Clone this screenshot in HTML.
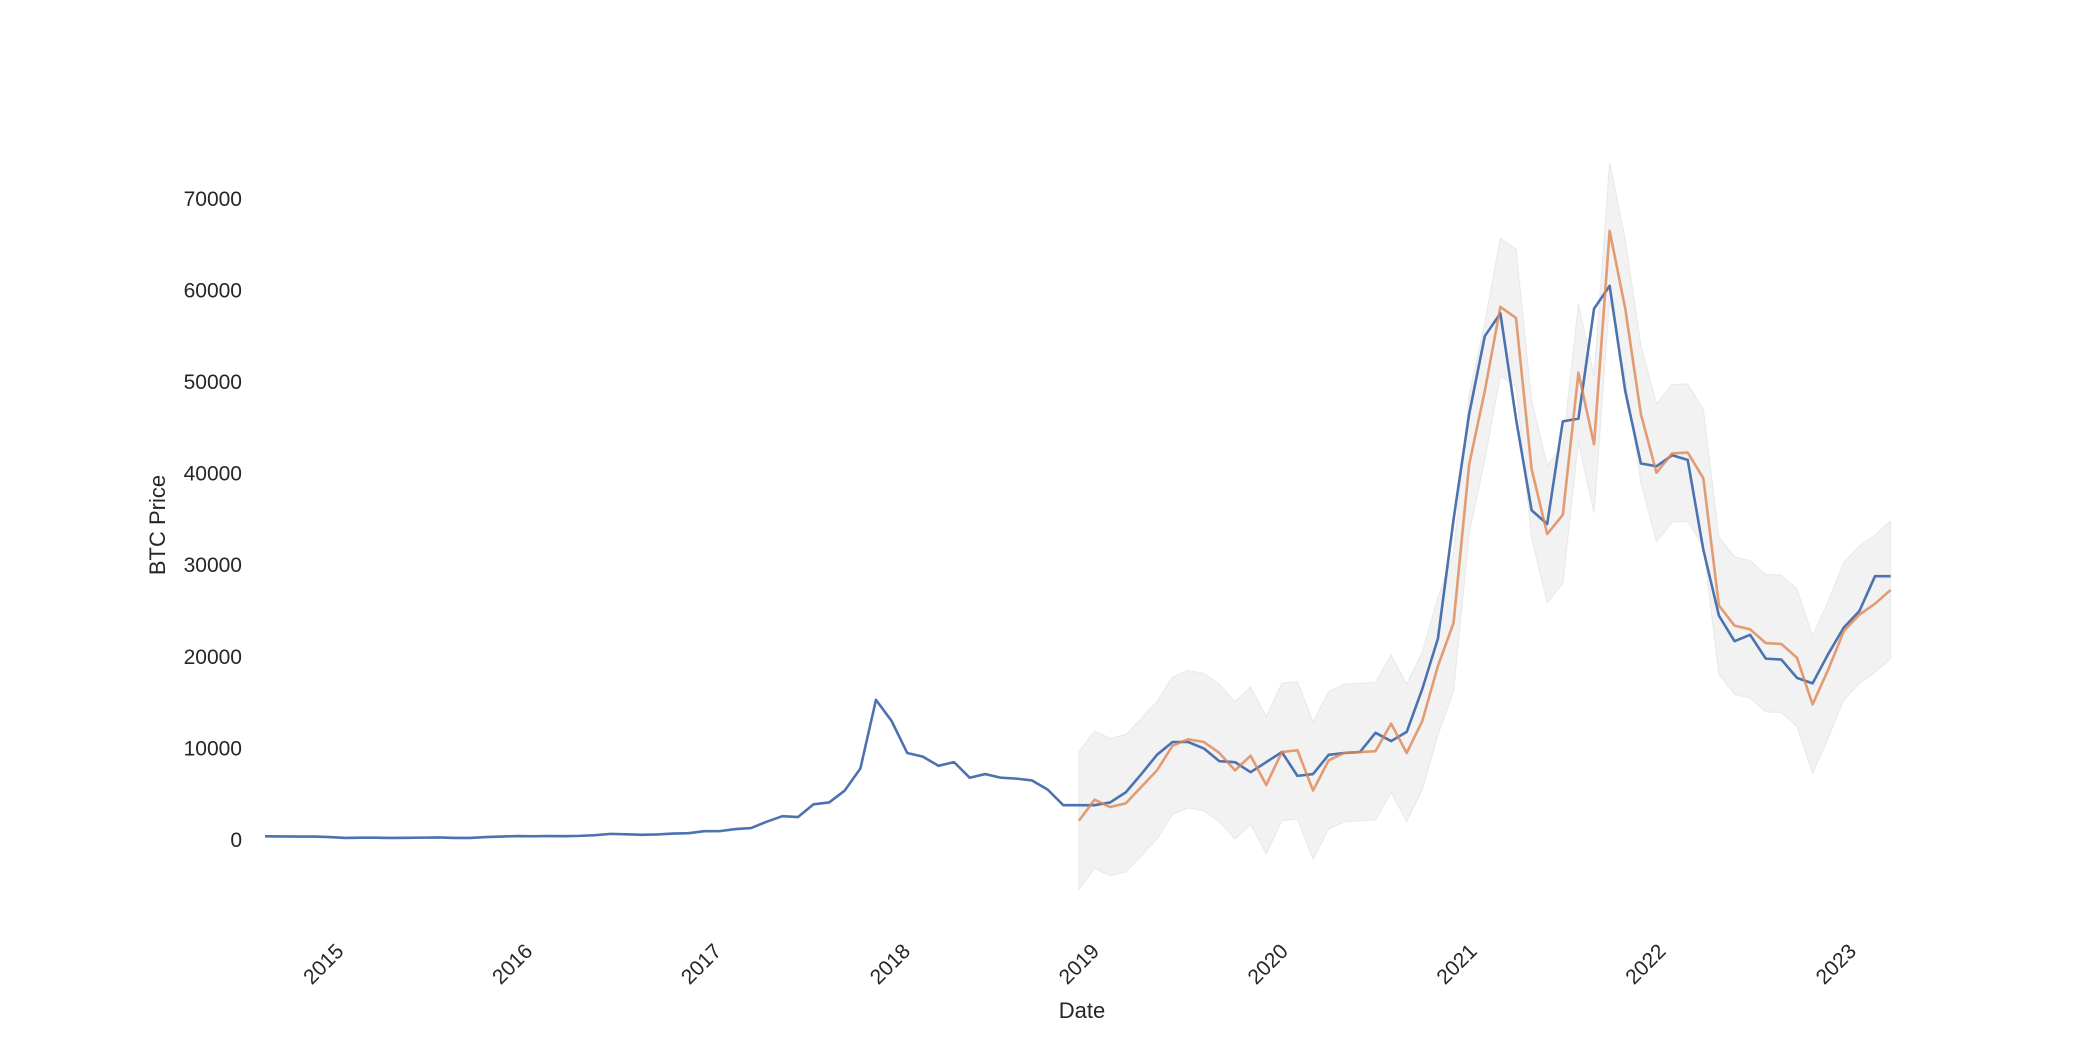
<!DOCTYPE html>
<html><head><meta charset="utf-8"><style>
html,body{margin:0;padding:0;background:#fff;}
svg{display:block;}
text{font-family:"Liberation Sans",Arial,sans-serif;fill:#262626;}
</style></head><body>
<svg id="chart" width="2100" height="1050" viewBox="0 0 2100 1050" xmlns="http://www.w3.org/2000/svg">
<g id="band"></g>
<g id="lines"></g>
<g id="yticks"></g>
<g id="xticks"></g>
<text x="1082" y="1018" font-size="22" text-anchor="middle">Date</text>
<text x="0" y="0" font-size="22" text-anchor="middle" transform="translate(165,525) rotate(-90)">BTC Price</text>
</svg>
<script>
const actual = [400,380,370,320,220,250,250,230,240,260,
280,230,230,320,370,430,410,430,420,450,
530,670,620,570,610,700,740,960,970,1190,
1300,2000,2600,2500,3900,4100,5400,7800,15300,13000,
9500,9100,8100,8500,6800,7200,6800,6700,6500,5500,
3800,3800,3800,4100,5200,7200,9300,10700,10700,10000,
8600,8500,7400,8500,9600,7000,7200,9300,9500,9600,
11700,10800,11800,16500,22000,35000,46500,55000,57500,46000,
36000,34500,45700,46000,58000,60500,49000,41100,40800,42000,
41500,31700,24500,21700,22400,19800,19700,17700,17100,20300,
23200,25000,28800,28800];
const startMonth = -1.14;
const predStart = 51;
const predicted = [2100,4400,3600,4000,5800,7600,10300,11000,10700,9500,
7600,9200,6000,9600,9800,5400,8700,9500,9600,9700,
12700,9500,13000,19000,23700,41000,49000,58200,57000,40500,
33400,35500,51000,43200,66500,58000,46500,40100,42200,42300,
39500,25600,23400,23000,21500,21400,19900,14800,18600,22800,
24600,25800,27300];
const ciLower = [-5400,-3100,-3900,-3500,-1700,100,2800,3500,3200,2000,
100,1700,-1500,2100,2300,-2100,1200,2000,2100,2200,
5200,2000,5500,11500,16200,33500,41500,50700,49500,33000,
25900,28000,43500,35700,59000,50500,39000,32600,34700,34800,
32000,18100,15900,15500,14000,13900,12400,7300,11100,15300,
17100,18300,19800];
const ciUpper = [9600,11900,11100,11500,13300,15100,17800,18500,18200,17000,
15100,16700,13500,17100,17300,12900,16200,17000,17100,17200,
20200,17000,20500,26500,31200,48500,56500,65700,64500,48000,
40900,43000,58500,50700,74000,65500,54000,47600,49700,49800,
47000,33100,30900,30500,29000,28900,27400,22300,26100,30300,
32100,33300,34800];
const yTicks = [0,10000,20000,30000,40000,50000,60000,70000];
const xTickLabels = ["2015","2016","2017","2018","2019","2020","2021","2022","2023"];
const xTickIdx = [2.6,14.7,26.8,38.9,51.0,63.1,75.2,87.3,99.5];

const NS="http://www.w3.org/2000/svg";
function xs(t){return 282.8+t*15.61;}
function tOf(i){return i===0?startMonth:i;}
function ys(v){return 840-v*0.00916;}
function mk(tag,attrs,parent){const e=document.createElementNS(NS,tag);for(const k in attrs)e.setAttribute(k,attrs[k]);parent.appendChild(e);return e;}

const band=document.getElementById('band');
let d="";
ciUpper.forEach((v,i)=>{d+=(i?"L":"M")+xs(predStart+i)+","+ys(v);});
for(let i=ciLower.length-1;i>=0;i--){d+="L"+xs(predStart+i)+","+ys(ciLower[i]);}
d+="Z";
const bp=mk('path',{d:d,fill:'#f2f2f2',stroke:'#e8e8e8','stroke-width':1},band);



const lines=document.getElementById('lines');
let da="";actual.forEach((v,i)=>{da+=(i?"L":"M")+xs(tOf(i))+","+ys(v);});
const la=mk('path',{d:da,fill:'none',stroke:'#4c72b0','stroke-width':2.6,'stroke-linejoin':'round'},lines);


let dp="";predicted.forEach((v,i)=>{dp+=(i?"L":"M")+xs(predStart+i)+","+ys(v);});
const lp=mk('path',{d:dp,fill:'none',stroke:'#dd8452','stroke-opacity':0.8,'stroke-width':2.6,'stroke-linejoin':'round'},lines);



const yt=document.getElementById('yticks');
yTicks.forEach(v=>{
  const t=mk('text',{x:242,y:ys(v)+7,'font-size':21,'text-anchor':'end'},yt);
  t.textContent=String(v);
  
  
});
const xt=document.getElementById('xticks');
xTickLabels.forEach((lab,k)=>{
  const cx=xs(xTickIdx[k]);
  const t=mk('text',{x:0,y:0,'font-size':21,'text-anchor':'middle',transform:'translate('+cx+',964) rotate(-45)',dy:7},xt);
  t.textContent=lab;
  
  
});
</script>
</body></html>
